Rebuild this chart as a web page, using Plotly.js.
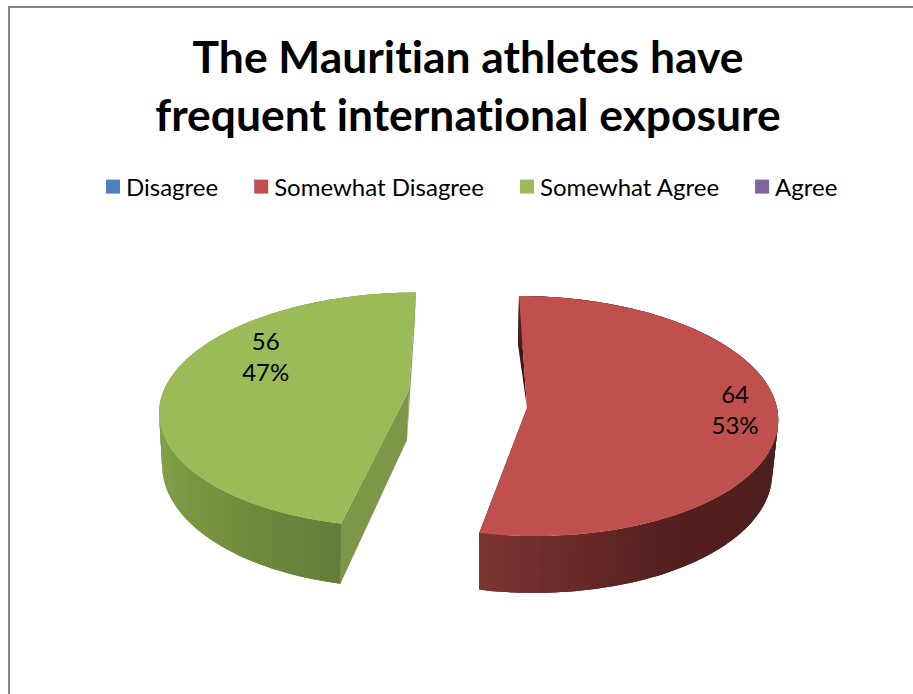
<!DOCTYPE html>
<html><head><meta charset="utf-8">
<script src="https://cdn.plot.ly/plotly-3.0.1.min.js"></script>
<style>html,body{margin:0;padding:0;background:#fff}#c{width:913px;height:694px}
text{font-variant-ligatures:none;font-feature-settings:"liga" 0}</style>
</head><body><div id="c"></div>
<script>
const categories = ['Disagree','Somewhat Disagree','Somewhat Agree','Agree'];
const values = [0,64,56,0];
const colors = ['#4f81bd','#c0504d','#9bbb59','#8064a2'];
const cutColors = [null,'#3f1614','#7d9647',null];

// 3D view of each exploded slice (screen geometry, not data)
const views = {
  1:{ax:527,ay:408,a:250,b:119.5,p:0.067,lean:-8,depth:53,dropX:-1,taperStart:true,
     wall:[[0,'#4c201e'],[110,'#4c201e'],[150,'#541f1e'],[175,'#6c2c2a'],[192,'#7b3432'],[360,'#7b3432']],labelAng:92.6,labelR:0.83},
  2:{ax:409,ay:390,a:245,b:114,p:0.17,lean:7,depth:50,dropX:-2,taperStart:false,
     wall:[[0,'#647c3a'],[192,'#647c3a'],[220,'#76903f'],[250,'#82a04a'],[290,'#8aa650'],[360,'#8aa650']],labelAng:294.5,labelR:0.68}
};
const total = values.reduce((s,v)=>s+v,0);
const rad = d=>d*Math.PI/180;
function proj(v,deg,r,drop){
  const X=r*Math.sin(rad(deg)), Y=r*Math.cos(rad(deg)), s=1/(1+v.p*Y);
  let x=v.a*X*s+v.lean*Y*r, y=-v.b*Y*s;
  if(drop){ x=x*0.98+v.dropX; y+=v.depth*s; }
  return [v.ax+x, v.ay+y];
}
function mix(stops,deg){
  for(let i=0;i<stops.length-1;i++){
    if(deg<=stops[i+1][0]){
      const f=(deg-stops[i][0])/(stops[i+1][0]-stops[i][0]||1);
      const h=c=>[1,3,5].map(k=>parseInt(c.substr(k,2),16));
      const A=h(stops[i][1]),B=h(stops[i+1][1]);
      return 'rgb('+A.map((q,k)=>Math.round(q+(B[k]-q)*f)).join(',')+')';
    }
  }
  return stops[stops.length-1][1];
}
function poly(pts,color){
  return {type:'scatter',mode:'none',x:pts.map(p=>p[0]),y:pts.map(p=>p[1]),fill:'toself',fillcolor:color,
    hoverinfo:'skip',showlegend:false};
}
const traces=[]; const labX=[],labY=[],labT=[];
let cum=0;
values.forEach((val,i)=>{
  if(!val){return;}
  const start=cum/total*360, end=(cum+val)/total*360; cum+=val;
  const v=views[i];
  // radial cut faces
  [start,end].forEach(a=>{
    const pts=[proj(v,a,0,false),proj(v,a,1,false),proj(v,a,1,true)];
    if(!(v.taperStart && a===start)) pts.push(proj(v,a,0,true));
    traces.push(poly(pts,cutColors[i]));
  });
  // outer wall, in overlapping strips for the shading
  const n=Math.round((end-start)/1.5);
  const step=(end-start)/n;
  for(let k=n-1;k>=0;k--){
    const a0=start+step*k,a1=a0+step;
    const a2=Math.max(start,a0-step);
    const pts=[];
    [a2,a0,a1].forEach(a=>pts.push(proj(v,a,1,false)));
    [a1,a0,a2].forEach(a=>pts.push(proj(v,a,1,true)));
    traces.push(poly(pts,mix(v.wall,(a0+a1)/2)));
  }
  // top face
  const top=[proj(v,start,0,false)];
  for(let k=0;k<=n*2;k++) top.push(proj(v,start+(end-start)*k/(n*2),1,false));
  top.push(proj(v,start,0,false));
  traces.push(poly(top,colors[i]));
  const lp=proj(v,v.labelAng,v.labelR,false);
  labX.push(lp[0]);labY.push(lp[1]);labT.push(val+'<br>'+Math.round(val/total*100)+'%');
});
traces.push({type:'scatter',mode:'text',x:labX,y:labY,text:labT,textposition:'middle center',
  textfont:{family:'Lato, sans-serif',size:24,color:'#000'},hoverinfo:'skip',showlegend:false});
categories.forEach((c,i)=>traces.push({type:'scatter',mode:'markers',name:c,x:[null],y:[null],
  marker:{symbol:'square',size:14,color:colors[i]},hoverinfo:'skip',showlegend:true}));

const layout={
  width:913,height:694,paper_bgcolor:'#fff',plot_bgcolor:'#fff',
  margin:{l:0,r:0,t:0,b:0},
  xaxis:{range:[0,913],visible:false,fixedrange:true},
  yaxis:{range:[694,0],visible:false,fixedrange:true},
  title:{text:'The Mauritian athletes have<br>frequent international exposure',
    font:{family:'Lato, sans-serif',size:44.4,color:'#000',weight:700},
    x:468/913,xanchor:'center',xref:'paper',y:1-73/694,yanchor:'middle',yref:'paper'},
  legend:{orientation:'h',x:86/913,xanchor:'left',y:1-187/694,yanchor:'middle',
    font:{family:'Lato, sans-serif',size:24,color:'#000'},bgcolor:'rgba(0,0,0,0)',traceorder:'normal'},
  shapes:[{type:'rect',xref:'x',yref:'y',x0:9,y0:7,x1:930,y1:720,line:{color:'#868686',width:2},layer:'below'}],
  showlegend:true
};
const extraGap=11, swatchShift=7;
Plotly.newPlot('c',traces,layout,{displayModeBar:false,responsive:false}).then(()=>{
  const root=document.getElementById('c');
  root.querySelectorAll('.legend [clip-path]').forEach(e=>e.removeAttribute('clip-path'));
  root.querySelectorAll('.legend .traces').forEach((g,i)=>{
    const m=/translate\(\s*([-\d.]+)[ ,]+([-\d.]+)/.exec(g.getAttribute('transform')||'');
    if(m) g.setAttribute('transform','translate('+(parseFloat(m[1])+i*extraGap)+','+m[2]+')');
    const pts=g.querySelector('.legendpoints');
    if(pts) pts.setAttribute('transform','translate('+swatchShift+',0)');
  });
});
</script></body></html>
